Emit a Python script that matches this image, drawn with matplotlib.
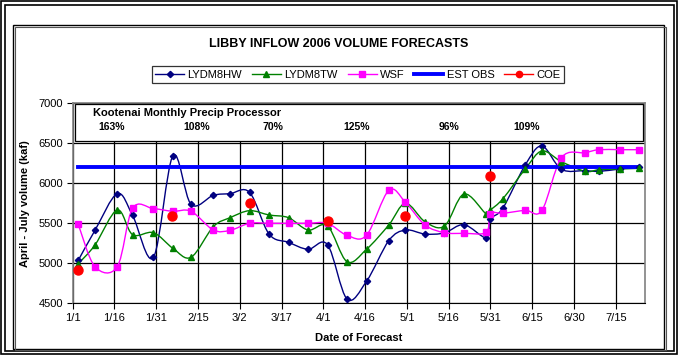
import numpy as np
import matplotlib.pyplot as plt
from matplotlib.path import Path
from matplotlib.patches import PathPatch, Rectangle
from matplotlib.lines import Line2D

plt.rcParams['font.family'] = ['Liberation Sans', 'DejaVu Sans']

# forecast dates, days after Jan 1 2006
days = [2, 8, 16, 21.5, 29, 36, 42.5, 50.5, 56.5, 63.5, 70.5, 77.5, 84.5, 91.5,
        98.5, 105.5, 113.5, 119.5, 126.5, 133.5, 140.5, 148.5, 150, 154.5,
        162.5, 168.5, 175.5, 184, 189, 196.5, 203.5]

lydm8hw = [5037, 5412, 5870, 5600, 5075, 6345, 5737, 5850, 5870, 5887, 5366,
           5262, 5175, 5233, 4554, 4775, 5283, 5416, 5366, 5380, 5483, 5320,
           5550, 5691, 6229, 6466, 6175, 6158, 6150, 6179, 6208]
lydm8tw = [4995, 5229, 5666, 5358, 5383, 5187, 5075, 5458, 5570, 5658, 5604,
           5570, 5416, 5466, 5020, 5175, 5479, 5750, 5520, 5466, 5866, 5616,
           5666, 5808, 6179, 6404, 6270, 6150, 6170, 6179, 6187]
wsf = [5487, 4958, 4958, 5687, 5683, 5650, 5650, 5416, 5412, 5500, 5500,
       5500, 5500, 5500, 5350, 5350, 5912, 5762, 5479, 5383, 5375, 5387,
       5620, 5625, 5662, 5662, 6320, 6383, 6420, 6420, 6420]

est_obs_days = [2, 203.5]
est_obs = [6200, 6200]

coe_days = [2, 35.5, 63.5, 91.5, 119.5, 150]
coe = [4916, 5591, 5754, 5533, 5595, 6091]

tick_days = [0, 15, 30, 45, 60, 75, 90, 105, 120, 135, 150, 165, 180, 195]
tick_labels = ['1/1', '1/16', '1/31', '2/15', '3/2', '3/17', '4/1', '4/16',
               '5/1', '5/16', '5/31', '6/15', '6/30', '7/15']

precip_days = [14, 44.5, 72, 102, 135, 163]
precip_pct = ['163%', '108%', '70%', '125%', '96%', '109%']


def smooth_path(x, y):
    # Excel style smoothed line: cubic bezier through each point
    pts = np.column_stack([x, y]).astype(float)
    n = len(pts)
    verts = [pts[0]]
    codes = [Path.MOVETO]
    for i in range(n - 1):
        p0 = pts[max(i - 1, 0)]
        p1 = pts[i]
        p2 = pts[i + 1]
        p3 = pts[min(i + 2, n - 1)]
        verts += [p1 + (p2 - p0) / 6, p2 - (p3 - p1) / 6, p2]
        codes += [Path.CURVE4] * 3
    return Path(verts, codes)


W, H = 678, 355
fig = plt.figure(figsize=(W / 100, H / 100), dpi=100)


def fig_rect(x0, y0, x1, y1, **kw):
    r = Rectangle((x0 / W, 1 - y1 / H), (x1 - x0) / W, (y1 - y0) / H,
                  transform=fig.transFigure, fill=False, **kw)
    fig.patches.append(r)


# outer double frame and chart area frame
fig_rect(1, 1, 677, 354, edgecolor='black', lw=1.2)
fig_rect(4.5, 4.5, 673.5, 350.5, edgecolor='black', lw=1.2)
fig_rect(13, 25, 664, 349, edgecolor='black', lw=1.0)
fig_rect(14.5, 26.5, 665.5, 350, edgecolor='#555555', lw=0.8)

ax = fig.add_axes([72.7 / W, 1 - 303.3 / H, (645 - 72.7) / W, 200 / H])

ax.set_xlim(0, 205.5)
ax.set_ylim(4500, 7000)
ax.set_xticks(tick_days)
ax.set_xticklabels(tick_labels)
ax.set_yticks([4500, 5000, 5500, 6000, 6500, 7000])
ax.tick_params(labelsize=8, length=4, width=0.8, color='black', pad=3)
ax.grid(True, color='black', lw=0.9)
ax.set_axisbelow(True)
for s in ['left', 'top', 'right']:
    ax.spines[s].set_color('#808080')
    ax.spines[s].set_linewidth(1.2)
ax.spines['bottom'].set_color('black')

ax.add_patch(PathPatch(smooth_path(days, lydm8hw), fill=False,
                       edgecolor='#000080', lw=1.0, zorder=3))
ax.add_patch(PathPatch(smooth_path(days, lydm8tw), fill=False,
                       edgecolor='#008000', lw=1.0, zorder=3))
ax.add_patch(PathPatch(smooth_path(days, wsf), fill=False,
                       edgecolor='#FF00FF', lw=1.0, zorder=3))
ax.plot(days, lydm8hw, 'D', color='#000080', ms=3.2, zorder=4)
ax.plot(days, lydm8tw, '^', color='#008000', ms=4.2, zorder=4)
ax.plot(days, wsf, 's', color='#FF00FF', ms=3.8, zorder=4)
ax.plot(est_obs_days, est_obs, color='#0000FF', lw=2.8, zorder=3)
ax.plot(coe_days, coe, 'o', color='#FF0000', ms=6.5, zorder=5)

# precip processor box
ax.add_patch(Rectangle((0.006, 0.805), 0.994, 0.19, transform=ax.transAxes,
                       facecolor='#808080', edgecolor='none', zorder=5))
ax.add_patch(Rectangle((0.004, 0.812), 0.992, 0.186, transform=ax.transAxes,
                       facecolor='white', edgecolor='black', lw=0.9, zorder=6))
ax.text(0.035, 0.95, 'Kootenai Monthly Precip Processor', transform=ax.transAxes,
        fontsize=8, fontweight='bold', va='center', ha='left', zorder=7)
for d, p in zip(precip_days, precip_pct):
    ax.text(d, 0.88, p, transform=ax.get_xaxis_transform(), fontsize=7.5,
            fontweight='bold', ha='center', va='center', zorder=7)

ax.set_xlabel('Date of Forecast', fontsize=8, fontweight='bold', labelpad=7)
ax.set_ylabel('April - July volume (kaf)', fontsize=8, fontweight='bold',
              labelpad=6)

fig.text(339 / W, 1 - 44 / H, 'LIBBY INFLOW 2006 VOLUME FORECASTS',
         fontsize=9, fontweight='bold', ha='center', va='center')

handles = [
    Line2D([], [], color='#000080', marker='D', ms=3.2, lw=1),
    Line2D([], [], color='#008000', marker='^', ms=4.2, lw=1),
    Line2D([], [], color='#FF00FF', marker='s', ms=3.8, lw=1),
    Line2D([], [], color='#0000FF', lw=2.8),
    Line2D([], [], color='#FF0000', marker='o', ms=4.5, lw=1),
]
leg = fig.legend(handles, ['LYDM8HW', 'LYDM8TW', 'WSF', 'EST OBS', 'COE'],
                 loc='center', bbox_to_anchor=(358 / W, 1 - 74.5 / H), ncol=5,
                 fontsize=8, frameon=True, fancybox=False, edgecolor='black',
                 handlelength=2.6, handletextpad=0.3, columnspacing=0.9,
                 borderpad=0.3)
leg.get_frame().set_linewidth(0.9)

fig.savefig('out.png', dpi=100)
